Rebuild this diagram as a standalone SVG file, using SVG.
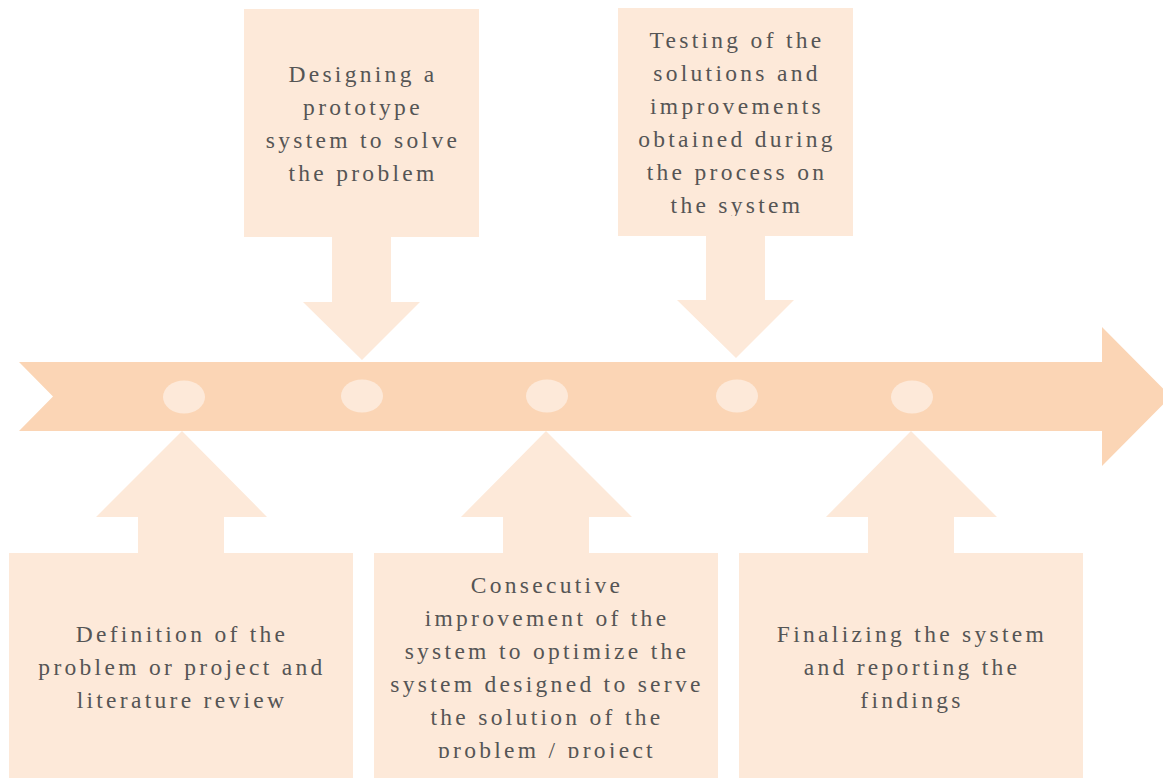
<svg xmlns="http://www.w3.org/2000/svg" width="1163" height="778" viewBox="0 0 1163 778">
<style>
.light{fill:#FDE9D9}
.main{fill:#FBD5B5}
.dot{fill:#FDE9D9}
text{font-family:"Liberation Serif","Times New Roman",serif;font-size:23.5px;fill:#555555;text-anchor:middle;letter-spacing:3.3px}
</style>
<defs>
<clipPath id="clipT2"><rect x="618" y="8" width="235" height="208"/></clipPath>
<clipPath id="clipB2"><rect x="374" y="553" width="344" height="205"/></clipPath>
</defs>
<rect width="1163" height="778" fill="#ffffff"/>
<g id="timeline">
<path class="main" d="M19,362 L1102,362 L1102,327 L1171,396.5 L1102,466 L1102,431 L19,431 L53,396.5 Z"/>
<ellipse class="dot" cx="184" cy="397" rx="21" ry="16.5"/>
<ellipse class="dot" cx="362" cy="396" rx="21" ry="16.5"/>
<ellipse class="dot" cx="547" cy="396" rx="21" ry="16.5"/>
<ellipse class="dot" cx="737" cy="396" rx="21" ry="16.5"/>
<ellipse class="dot" cx="912" cy="397" rx="21" ry="16.5"/>
</g>
<g id="connectors">
<path class="light" d="M332,237 L391,237 L391,302 L420,302 L362,360 L303,302 L332,302 Z"/>
<path class="light" d="M706,236 L765,236 L765,300 L794,300 L736,358 L677,300 L706,300 Z"/>
<path class="light" d="M138,553 L224,553 L224,517 L267,517 L182,431 L96,517 L138,517 Z"/>
<path class="light" d="M503,553 L589,553 L589,517 L632,517 L546,431 L461,517 L503,517 Z"/>
<path class="light" d="M868,553 L954,553 L954,517 L997,517 L911,431 L826,517 L868,517 Z"/>
</g>
<g id="step2">
<rect class="light" x="244" y="9" width="235" height="228"/>
<text x="363" y="82">Designing a</text>
<text x="363" y="115">prototype</text>
<text x="363" y="148">system to solve</text>
<text x="363" y="181">the problem</text>
</g>
<g id="step4">
<rect class="light" x="618" y="8" width="235" height="228"/>
<g clip-path="url(#clipT2)">
<text x="737" y="48">Testing of the</text>
<text x="737" y="81">solutions and</text>
<text x="737" y="114">improvements</text>
<text x="737" y="147">obtained during</text>
<text x="737" y="180">the process on</text>
<text x="737" y="213">the system</text>
</g>
</g>
<g id="step1">
<rect class="light" x="9" y="553" width="344" height="225"/>
<text x="182" y="642">Definition of the</text>
<text x="182" y="675">problem or project and</text>
<text x="182" y="708">literature review</text>
</g>
<g id="step3">
<rect class="light" x="374" y="553" width="344" height="225"/>
<g clip-path="url(#clipB2)">
<text x="547" y="593">Consecutive</text>
<text x="547" y="626">improvement of the</text>
<text x="547" y="659">system to optimize the</text>
<text x="547" y="692">system designed to serve</text>
<text x="547" y="725">the solution of the</text>
<text x="547" y="758">problem / project</text>
</g>
</g>
<g id="step5">
<rect class="light" x="739" y="553" width="344" height="225"/>
<text x="912" y="642">Finalizing the system</text>
<text x="912" y="675">and reporting the</text>
<text x="912" y="708">findings</text>
</g>
</svg>
